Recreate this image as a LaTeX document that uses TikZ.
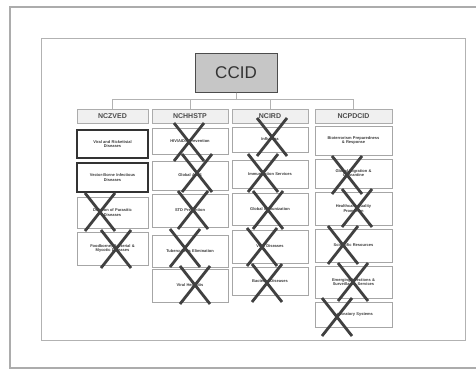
\documentclass[tikz,border=0pt]{standalone}
\usepackage{fontspec}
\setmainfont{Liberation Sans}
\usetikzlibrary{positioning}

\begin{document}
\begin{tikzpicture}[
  x=1pt, y=-1pt,
  every node/.style={inner sep=1pt},
  unitbox/.style={draw=gray!70, line width=0.8pt, fill=white,
    minimum width=#1, align=center, text width=62pt,
    font=\fontsize{4}{4.8}\selectfont\bfseries, text=gray!45!black},
  unitbox/.default=75pt,
  keepbox/.style={unitbox=71pt, draw=black!80, line width=1.4pt},
  headbox/.style={draw=gray!65, fill=gray!12, line width=0.9pt,
    minimum height=14pt, font=\fontsize{7}{8}\selectfont\bfseries, text=black!70},
  tree/.style={draw=gray!60, line width=0.8pt},
  strike/.style={draw=black!75, line width=2.8pt},
]

% ── Canvas and scan frames ────────────────────────────────────────────────────
\useasboundingbox (0,0) rectangle (476,369);
\fill[white] (0,0) rectangle (476,369);
\draw[gray!65, line width=1.6pt] (480,7) -- (10,7) -- (10,368) -- (480,368);
\draw[gray!60, line width=1pt] (41,39) rectangle (465,340);

% ── Centre box ────────────────────────────────────────────────────────────────
\node[draw=black!70, fill=gray!45, line width=1pt,
      minimum width=82pt, minimum height=38pt,
      font=\fontsize{17}{17}\selectfont, text=black!80] (ccid) at (236,73) {CCID};

% ── Centre headers ────────────────────────────────────────────────────────────
\node[headbox, minimum width=71pt] (zved)  at (112.5,116) {NCZVED};
\node[headbox, minimum width=76pt] (hstp)  at (190,116)   {NCHHSTP};
\node[headbox, minimum width=76pt] (ird)   at (270,116)   {NCIRD};
\node[headbox, minimum width=77pt] (pdcid) at (353.5,116) {NCPDCID};

% Tree lines from CCID down to each header
\draw[tree] (ccid.south) -- ++(0,7) -| (zved.north);
\draw[tree] (ccid.south) -- ++(0,7) -| (hstp.north);
\draw[tree] (ccid.south) -- ++(0,7) -| (ird.north);
\draw[tree] (ccid.south) -- ++(0,7) -| (pdcid.north);

% ── NCZVED divisions ──────────────────────────────────────────────────────────
\node[keepbox, minimum height=28pt] (z1) at (112.5,144)   {Viral and Rickettsial\\Diseases};
\node[keepbox, minimum height=29pt] (z2) at (112.5,177.5) {Vector-Borne Infectious\\Diseases};
\node[unitbox=71pt, minimum height=31pt] (z3) at (112.5,212.5) {Division of Parasitic\\Diseases};
\node[unitbox=71pt, minimum height=33pt] (z4) at (112.5,248.5) {Foodborne, Bacterial \&\\Mycotic Diseases};

% ── NCHHSTP divisions ─────────────────────────────────────────────────────────
\node[unitbox=76pt, minimum height=26pt] (h1) at (190,141)   {HIV/AIDS Prevention};
\node[unitbox=76pt, minimum height=29pt] (h2) at (190,175.5) {Global AIDS};
\node[unitbox=76pt, minimum height=33pt] (h3) at (190,210.5) {STD Prevention};
\node[unitbox=76pt, minimum height=32pt] (h4) at (190,251)   {Tuberculosis Elimination};
\node[unitbox=76pt, minimum height=33pt] (h5) at (190,285.5) {Viral Hepatitis};

% ── NCIRD divisions ───────────────────────────────────────────────────────────
\node[unitbox=76pt, minimum height=25pt] (i1) at (270,139.5) {Influenza};
\node[unitbox=76pt, minimum height=28pt] (i2) at (270,174)   {Immunization Services};
\node[unitbox=76pt, minimum height=32pt] (i3) at (270,209)   {Global Immunization};
\node[unitbox=76pt, minimum height=33pt] (i4) at (270,246.5) {Viral Diseases};
\node[unitbox=76pt, minimum height=28pt] (i5) at (270,281)   {Bacterial Diseases};

% ── NCPDCID divisions ─────────────────────────────────────────────────────────
\node[unitbox=77pt, minimum height=29pt] (p1) at (353.5,140.5) {Bioterrorism Preparedness\\\& Response};
\node[unitbox=77pt, minimum height=29pt] (p2) at (353.5,173.5) {Global Migration \&\\Quarantine};
\node[unitbox=77pt, minimum height=33pt] (p3) at (353.5,208.5) {Healthcare Quality\\Promotion};
\node[unitbox=77pt, minimum height=33pt] (p4) at (353.5,245.5) {Scientific Resources};
\node[unitbox=77pt, minimum height=32pt] (p5) at (353.5,282)   {Emerging Infections \&\\Surveillance Services};
\node[unitbox=77pt, minimum height=25pt] (p6) at (353.5,314.5) {Laboratory Systems};

% ── Strike-through crosses (hand-placed, slightly off-centre) ────────────────
\foreach \cx/\cy in {100/212, 116/249,
                     189/142, 197/173, 193/210, 185/248, 195/285,
                     272/137, 263/173, 268/210, 262/247, 267/283,
                     347/175, 357/208, 343/245, 353/282, 337/317}
  \draw[strike] (\cx-15,\cy-19) -- (\cx+15,\cy+19)
                (\cx-15,\cy+19) -- (\cx+15,\cy-19);

\end{tikzpicture}
\end{document}
